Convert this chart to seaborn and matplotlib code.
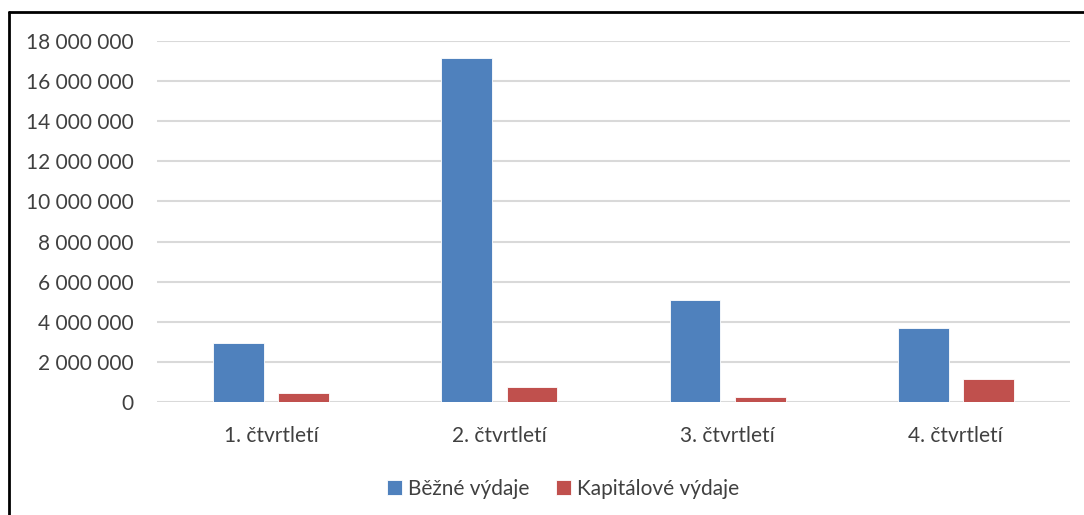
import pandas as pd
import numpy as np
import matplotlib
matplotlib.use("Agg")
import matplotlib.pyplot as plt
import seaborn as sns
from matplotlib.lines import Line2D
from matplotlib.ticker import FuncFormatter

# data
quarters = ["1. čtvrtletí", "2. čtvrtletí", "3. čtvrtletí", "4. čtvrtletí"]
bezne = [2920000, 17140000, 5110000, 3700000]
kapitalove = [430000, 730000, 260000, 1140000]
series_names = ["Běžné výdaje", "Kapitálové výdaje"]
yticks = [0, 2000000, 4000000, 6000000, 8000000, 10000000,
          12000000, 14000000, 16000000, 18000000]

df = pd.DataFrame({
    "Čtvrtletí": quarters * 2,
    "Výdaje": bezne + kapitalove,
    "Druh": [series_names[0]] * 4 + [series_names[1]] * 4,
})

sns.set_style("white")
plt.rcParams["font.family"] = ["Lato", "DejaVu Sans"]
text_color = "#404040"

fig = plt.figure(figsize=(10.84, 5.15), dpi=100)
ax = fig.add_axes([157 / 1084, 113 / 515, 913 / 1084, 361 / 515])

palette = {series_names[0]: "#4F81BD", series_names[1]: "#C0504D"}
sns.barplot(data=df, x="Čtvrtletí", y="Výdaje", hue="Druh", palette=palette,
            width=0.57, gap=0.22, saturation=1, ax=ax,
            edgecolor="white", linewidth=0.6, zorder=3)

ax.set_ylim(0, 18000000)
ax.set_xlim(-0.5, 3.5)
ax.set_yticks(yticks)
ax.yaxis.set_major_formatter(FuncFormatter(lambda v, p: f"{int(v):,}".replace(",", " ")))
ax.grid(axis="y", color="#D9D9D9", linewidth=1.5, zorder=0)
ax.grid(axis="x", visible=False)
for s in ax.spines.values():
    s.set_visible(False)
ax.tick_params(axis="y", length=0, pad=17, labelsize=15, labelcolor=text_color)
ax.tick_params(axis="x", length=0, pad=17, labelsize=15, labelcolor=text_color)
ax.set_xlabel("")
ax.set_ylabel("")

ax.legend(loc="upper center", bbox_to_anchor=(0.445, -0.16), ncol=2, frameon=False,
          fontsize=15, handlelength=0.7, handleheight=0.7, handletextpad=0.3,
          columnspacing=1.3, labelcolor=text_color)

# outer frame (cropped on the right and bottom)
fig.add_artist(Line2D([8.5 / 1084, 8.5 / 1084], [0, 1 - 12 / 515],
                      transform=fig.transFigure, color="black", linewidth=2))
fig.add_artist(Line2D([8.5 / 1084, 1], [1 - 12 / 515, 1 - 12 / 515],
                      transform=fig.transFigure, color="black", linewidth=2))

fig.savefig("out.png", dpi=100)
